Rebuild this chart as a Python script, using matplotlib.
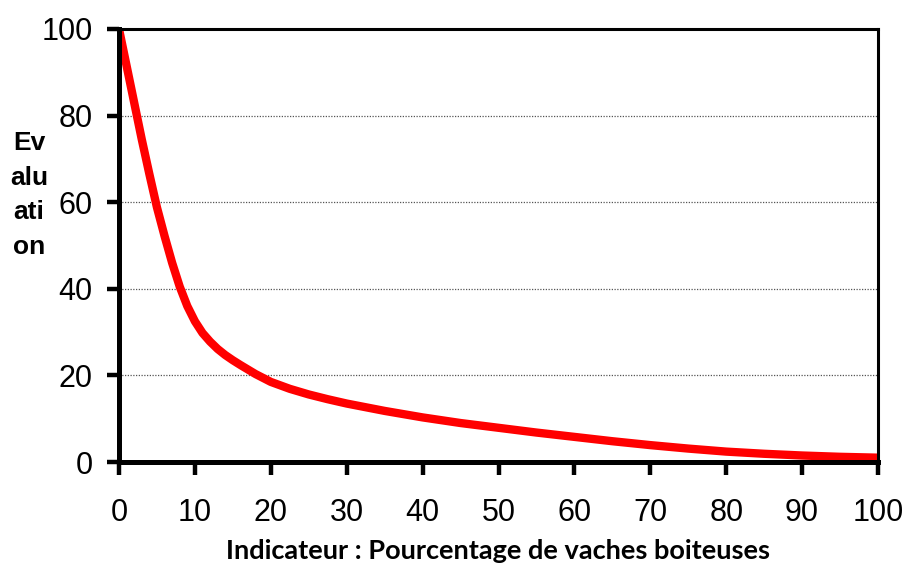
import matplotlib
matplotlib.use("Agg")
from matplotlib import pyplot as plt

# valeurs
pourcentage = [0, 1, 2, 3, 4, 5, 6, 7, 8, 9, 10, 11, 12, 13, 14, 15, 16, 18, 20, 22.5,
               25, 27.5, 30, 35, 40, 45, 50, 55, 60, 65, 70, 75, 80, 85, 90, 95, 100]
evaluation = [100, 91.5, 83, 74.5, 66.5, 58.8, 52.2, 46, 40.5, 36, 32.5, 29.8, 27.8, 26.1, 24.7, 23.5, 22.4, 20.3, 18.5, 16.9,
              15.6, 14.5, 13.5, 11.8, 10.3, 9.0, 7.9, 6.8, 5.8, 4.8, 3.9, 3.1, 2.4, 1.9, 1.5, 1.2, 1.0]

x_ticks = [0, 10, 20, 30, 40, 50, 60, 70, 80, 90, 100]
y_ticks = [0, 20, 40, 60, 80, 100]

plt.rcParams["font.family"] = ["Liberation Sans", "DejaVu Sans"]

fig = plt.figure(figsize=(9.07, 5.63), dpi=100)
ax = fig.add_axes([119 / 907, 1 - 462 / 563, (878 - 119) / 907, (462 - 29) / 563])

ax.plot(pourcentage, evaluation, color="#ff0000", lw=6, solid_capstyle="butt",
        solid_joinstyle="round", zorder=3)

ax.set_xlim(0, 100)
ax.set_ylim(0, 100)
ax.set_xticks(x_ticks)
ax.set_yticks(y_ticks)

ax.tick_params(axis="both", direction="out", length=9, width=3.2, colors="black", labelsize=22)
ax.tick_params(axis="x", pad=17)
ax.tick_params(axis="y", pad=10)

for y in y_ticks[1:-1]:
    ax.axhline(y, color="#555555", lw=0.9, ls=(0, (1, 1.2)), zorder=1)

ax.spines["left"].set_linewidth(3.6)
ax.spines["bottom"].set_linewidth(3.6)
ax.spines["top"].set_linewidth(2.2)
ax.spines["right"].set_linewidth(2.2)
for s in ax.spines.values():
    s.set_zorder(4)

ax.set_xlabel("Indicateur : Pourcentage de vaches boiteuses", family=["Lato", "DejaVu Sans"],
              fontweight="bold", fontsize=19.5, labelpad=8)

fig.text(29 / 907, 1 - 195 / 563, "Ev\nalu\nati\non", ha="center", va="center",
         fontweight="bold", fontsize=19, linespacing=1.55)

fig.savefig("out.png", dpi=100)
